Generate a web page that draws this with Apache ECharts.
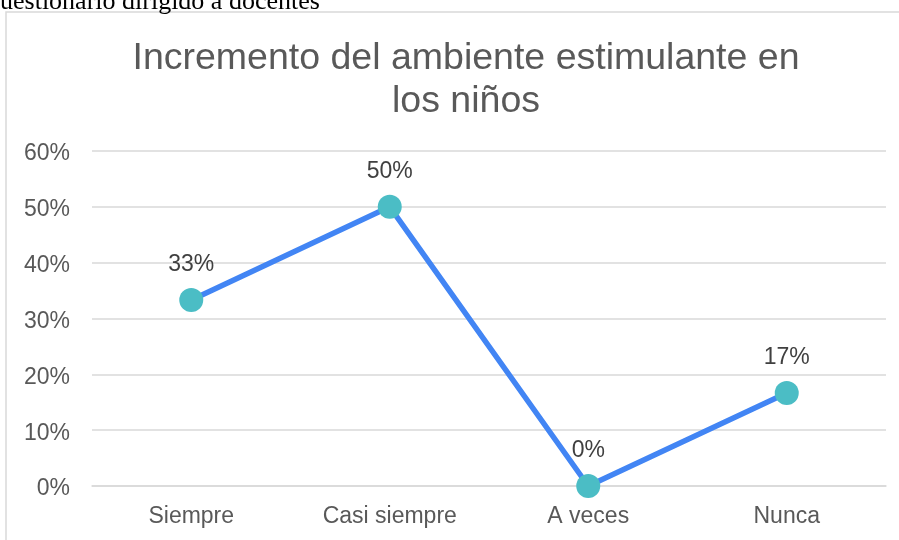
<!DOCTYPE html>
<html>
<head>
<meta charset="utf-8">
<script src="https://cdn.jsdelivr.net/npm/echarts@6/dist/echarts.min.js"></script>
<style>
  html, body { margin: 0; padding: 0; background: #fff; }
  #chart { width: 899px; height: 540px; }
</style>
</head>
<body>
<div id="chart"></div>
<script>
const categories = ['Siempre', 'Casi siempre', 'A veces', 'Nunca']
const values = [0.3333, 0.5, 0, 0.1667]
const titleLines = ['Incremento del ambiente estimulante en', 'los niños']
const caption = 'uestionario dirigido a docentes'

const myChart = echarts.init(document.getElementById('chart'))

const option = {
  backgroundColor: '#ffffff',
  animation: false,
  graphic: [
    {
      type: 'rect',
      shape: { x: 6, y: 12, width: 1000, height: 600 },
      style: { fill: 'none', stroke: '#d9d9d9', lineWidth: 1.5 },
      silent: true,
    },
    {
      type: 'text',
      left: 0,
      top: -11,
      style: {
        text: caption,
        font: '26px "Liberation Serif", "Times New Roman", serif',
        fill: '#000000',
      },
    },
  ],
  title: {
    text: titleLines.join('\n'),
    left: 461,
    top: 32,
    textAlign: 'center',
    textStyle: {
      fontFamily: 'Liberation Sans, Arial, sans-serif',
      fontSize: 37.5,
      fontWeight: 'normal',
      color: '#595959',
      lineHeight: 43,
    },
  },
  grid: {
    left: 92,
    right: 13,
    top: 151,
    bottom: 54,
    containLabel: false,
  },
  xAxis: {
    type: 'category',
    data: categories,
    boundaryGap: true,
    axisLine: { lineStyle: { color: '#d9d9d9', width: 1.5 } },
    axisTick: { show: false },
    axisLabel: {
      color: '#595959',
      fontSize: 23,
      fontFamily: 'Liberation Sans, Arial, sans-serif',
      margin: 19,
    },
  },
  yAxis: {
    type: 'value',
    min: 0,
    max: 0.6,
    interval: 0.1,
    axisLine: { show: false },
    axisTick: { show: false },
    splitLine: { lineStyle: { color: '#d9d9d9', width: 1.5 } },
    axisLabel: {
      color: '#595959',
      fontSize: 23,
      fontFamily: 'Liberation Sans, Arial, sans-serif',
      margin: 22,
      verticalAlign: 'top',
      lineHeight: 6,
      formatter: (v) => Math.round(v * 100) + '%',
    },
  },
  series: [
    {
      type: 'line',
      data: values,
      symbol: 'circle',
      symbolSize: 24,
      lineStyle: { color: '#4285f4', width: 5.5 },
      itemStyle: { color: '#4bbdc5', borderWidth: 0 },
      label: {
        show: true,
        position: 'top',
        distance: 12,
        color: '#404040',
        fontSize: 23,
        fontFamily: 'Liberation Sans, Arial, sans-serif',
        formatter: (p) => Math.round(p.value * 100) + '%',
      },
    },
  ],
}

myChart.setOption(option)
</script>
</body>
</html>
